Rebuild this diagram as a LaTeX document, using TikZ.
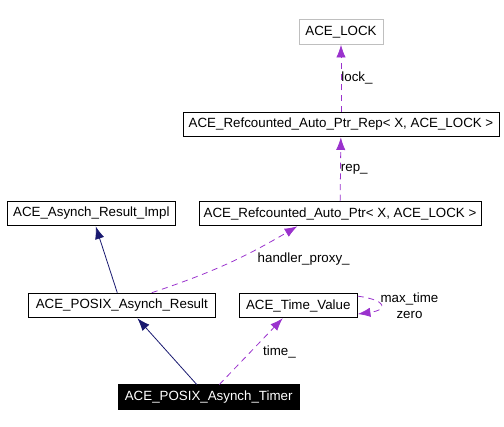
\documentclass[tikz,border=0pt]{standalone}
\usepackage{fontspec}
\setmainfont{Liberation Sans}
\usetikzlibrary{arrows.meta}
\definecolor{navyedge}{RGB}{25,25,112}
\definecolor{useedge}{RGB}{154,50,205}
\definecolor{boxgrey}{RGB}{191,191,191}
\tikzstyle{klass}=[rectangle,draw,line width=0.7pt,inner xsep=2pt,inner ysep=0pt,minimum height=18.5pt]
\tikzstyle{inherit} = [draw,line width=0.6pt,navyedge,-{Latex[length=9.5pt,width=7pt]}]
\tikzstyle{usage} = [draw,line width=0.6pt,useedge,dash pattern=on 4.5pt off 3.5pt,-{Latex[length=9.5pt,width=7pt]}]
\tikzstyle{weight} = [inner sep=0pt,text=black]

\begin{document}
\begin{tikzpicture}[x=0.75pt,y=-0.75pt]
    \useasboundingbox (0,0) rectangle (504,427);

    % classes
    \node[klass,draw=boxgrey,minimum width=63pt] (lock) at (341,32) {ACE\_LOCK};
    \node[klass,minimum width=237pt] (rep) at (341,124.5) {ACE\_Refcounted\_Auto\_Ptr\_Rep< X, ACE\_LOCK >};
    \node[klass,minimum width=211.5pt] (ptr) at (340,213.5) {ACE\_Refcounted\_Auto\_Ptr< X, ACE\_LOCK >};
    \node[klass,minimum width=126pt] (impl) at (91.3,213.5) {ACE\_Asynch\_Result\_Impl};
    \node[klass,minimum width=140.25pt] (result) at (121.8,305.5) {ACE\_POSIX\_Asynch\_Result};
    \node[klass,minimum width=88.5pt] (time) at (298.3,305.5) {ACE\_Time\_Value};
    \node[klass,fill=black,text=white,minimum width=135.75pt] (timer) at (208.7,397.3) {ACE\_POSIX\_Asynch\_Timer};

    % inheritance
    \path[inherit] ([xshift=-9pt]timer.north) -- ([xshift=11.7pt]result.south);
    \path[inherit] ([xshift=-3.4pt]result.north) -- ([xshift=3.3pt]impl.south);

    % usage with member names
    \foreach \source/ \dest/\weight in {rep/lock/lock\_, ptr/rep/rep\_}
        \path[usage] (\source) -- node[weight,right] {\weight} (\dest);
    \path[usage] ([xshift=22.5pt]result.north) to[bend right=6] ([xshift=-32pt]ptr.south);
    \node[weight] (proxylabel) at (303.7,259) {handler\_proxy\_};
    \path[usage] ([xshift=8pt]timer.north) -- ([xshift=-11.7pt]time.south);
    \node[weight] (timelabel) at (279.5,351.7) {time\_};
    \path[usage] ([yshift=7pt]time.east) .. controls +(30,4) and +(30,-4) .. ([yshift=-6.4pt]time.east);
    \node[weight,align=center] (looplabel) at (409.5,305.5) {max\_time\\zero};

\end{tikzpicture}
\end{document}
